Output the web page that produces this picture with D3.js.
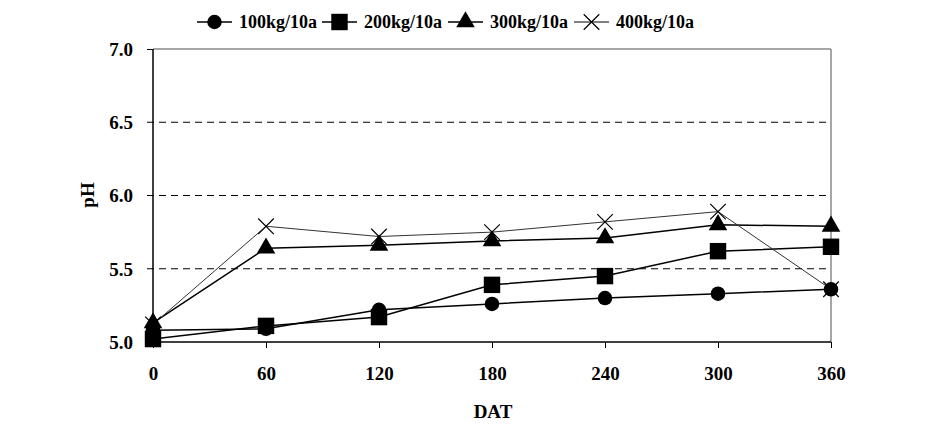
<!DOCTYPE html>
<html><head><meta charset="utf-8">
<script src="https://cdn.jsdelivr.net/npm/d3@7/dist/d3.min.js"></script>
<style>body{margin:0;background:#fff}svg{display:block}</style>
</head><body>
<svg id="c" width="927" height="432"></svg>
<script>
const days = [0, 60, 120, 180, 240, 300, 360];
const s100 = [5.08, 5.09, 5.22, 5.26, 5.30, 5.33, 5.36];
const s200 = [5.02, 5.11, 5.17, 5.39, 5.45, 5.62, 5.65];
const s300 = [5.13, 5.64, 5.66, 5.69, 5.71, 5.80, 5.79];
const s400 = [5.12, 5.79, 5.72, 5.75, 5.82, 5.89, 5.36];
const seriesNames = ["100kg/10a", "200kg/10a", "300kg/10a", "400kg/10a"];
const yTicks = [5.0, 5.5, 6.0, 6.5, 7.0];
const xTicks = [0, 60, 120, 180, 240, 300, 360];

const svg = d3.select("#c");
const font = "'Liberation Serif','Times New Roman',serif";
const x = d3.scaleLinear().domain([0, 360]).range([153, 831]);
const y = d3.scaleLinear().domain([5, 7]).range([342, 49]);

svg.append("line").attr("x1",153).attr("x2",831).attr("y1",y(7)).attr("y2",y(7)).attr("stroke","#888").attr("stroke-width",1.5);
svg.append("line").attr("x1",831).attr("x2",831).attr("y1",y(7)).attr("y2",y(5)).attr("stroke","#888").attr("stroke-width",1.5);

svg.append("g").selectAll("line").data(yTicks.filter(t=>t>5&&t<7)).join("line")
  .attr("x1",147).attr("x2",831).attr("y1",d=>y(d)).attr("y2",d=>y(d))
  .attr("stroke","#000").attr("stroke-width",1).attr("stroke-dasharray","7,5");

const yAxis = d3.axisLeft(y).tickValues(yTicks).tickFormat(d3.format(".1f")).tickSize(6);
const gy = svg.append("g").attr("transform","translate(153,0)").call(yAxis);
const xAxis = d3.axisBottom(x).tickValues(xTicks).tickSize(6);
const gx = svg.append("g").attr("transform","translate(0,342)").call(xAxis);
[gx, gy].forEach(g=>{
  g.selectAll("text").attr("font-family",font).attr("font-weight","bold").attr("font-size",19).attr("fill","#000");
  g.select(".domain").attr("stroke","#000").attr("stroke-width",1.5);
  g.selectAll(".tick line").attr("stroke","#000");
});
gx.selectAll(".tick text").attr("y",38).attr("dy",0);
gy.selectAll(".tick text").attr("x",-20).attr("dy","0.34em");
gx.select(".domain").attr("d","M153,0H831");
gy.select(".domain").attr("d","M0,49V342");
gy.selectAll(".tick line").filter(d=>d>5&&d<7).remove();

svg.append("text").attr("x",493).attr("y",418).attr("text-anchor","middle")
  .attr("font-family",font).attr("font-weight","bold").attr("font-size",19).text("DAT");
svg.append("text").attr("transform","translate(94,195) rotate(-90)").attr("text-anchor","middle")
  .attr("font-family",font).attr("font-weight","bold").attr("font-size",19).text("pH");

const data = [s100, s200, s300, s400];
const symbols = [d3.symbolCircle, d3.symbolSquare, d3.symbolTriangle, d3.symbolTimes];
const sizes = [165, 270, 150, 160];
const lineW = [1.5, 1.5, 1.5, 1];
const lineC = ["#000","#000","#000","#333"];
const line = d3.line().x((d,i)=>x(days[i])).y(d=>y(d));

data.forEach((s,k)=>{
  svg.append("path").attr("d",line(s)).attr("fill","none").attr("stroke",lineC[k]).attr("stroke-width",lineW[k]);
});
data.forEach((s,k)=>{
  const sym = d3.symbol().type(symbols[k]).size(sizes[k]);
  svg.append("g").selectAll("path").data(s).join("path")
    .attr("transform",(d,i)=>`translate(${x(days[i])},${y(d)})`)
    .attr("d",sym())
    .attr("fill",k===3?"none":"#000")
    .attr("stroke","#000").attr("stroke-width",k===3?1.2:0);
});

const lx = [197, 322, 448, 574];
seriesNames.forEach((n,k)=>{
  const g = svg.append("g");
  g.append("line").attr("x1",lx[k]).attr("x2",lx[k]+35).attr("y1",22).attr("y2",22).attr("stroke","#000").attr("stroke-width",k===3?1:1.5);
  g.append("path").attr("transform",`translate(${lx[k]+17.5},22)`)
    .attr("d",d3.symbol().type(symbols[k]).size(sizes[k])())
    .attr("fill",k===3?"none":"#000").attr("stroke","#000").attr("stroke-width",k===3?1.2:0);
  g.append("text").attr("x",lx[k]+42).attr("y",28).attr("font-family",font).attr("font-weight","bold").attr("font-size",18).text(n);
});
</script>
</body></html>
